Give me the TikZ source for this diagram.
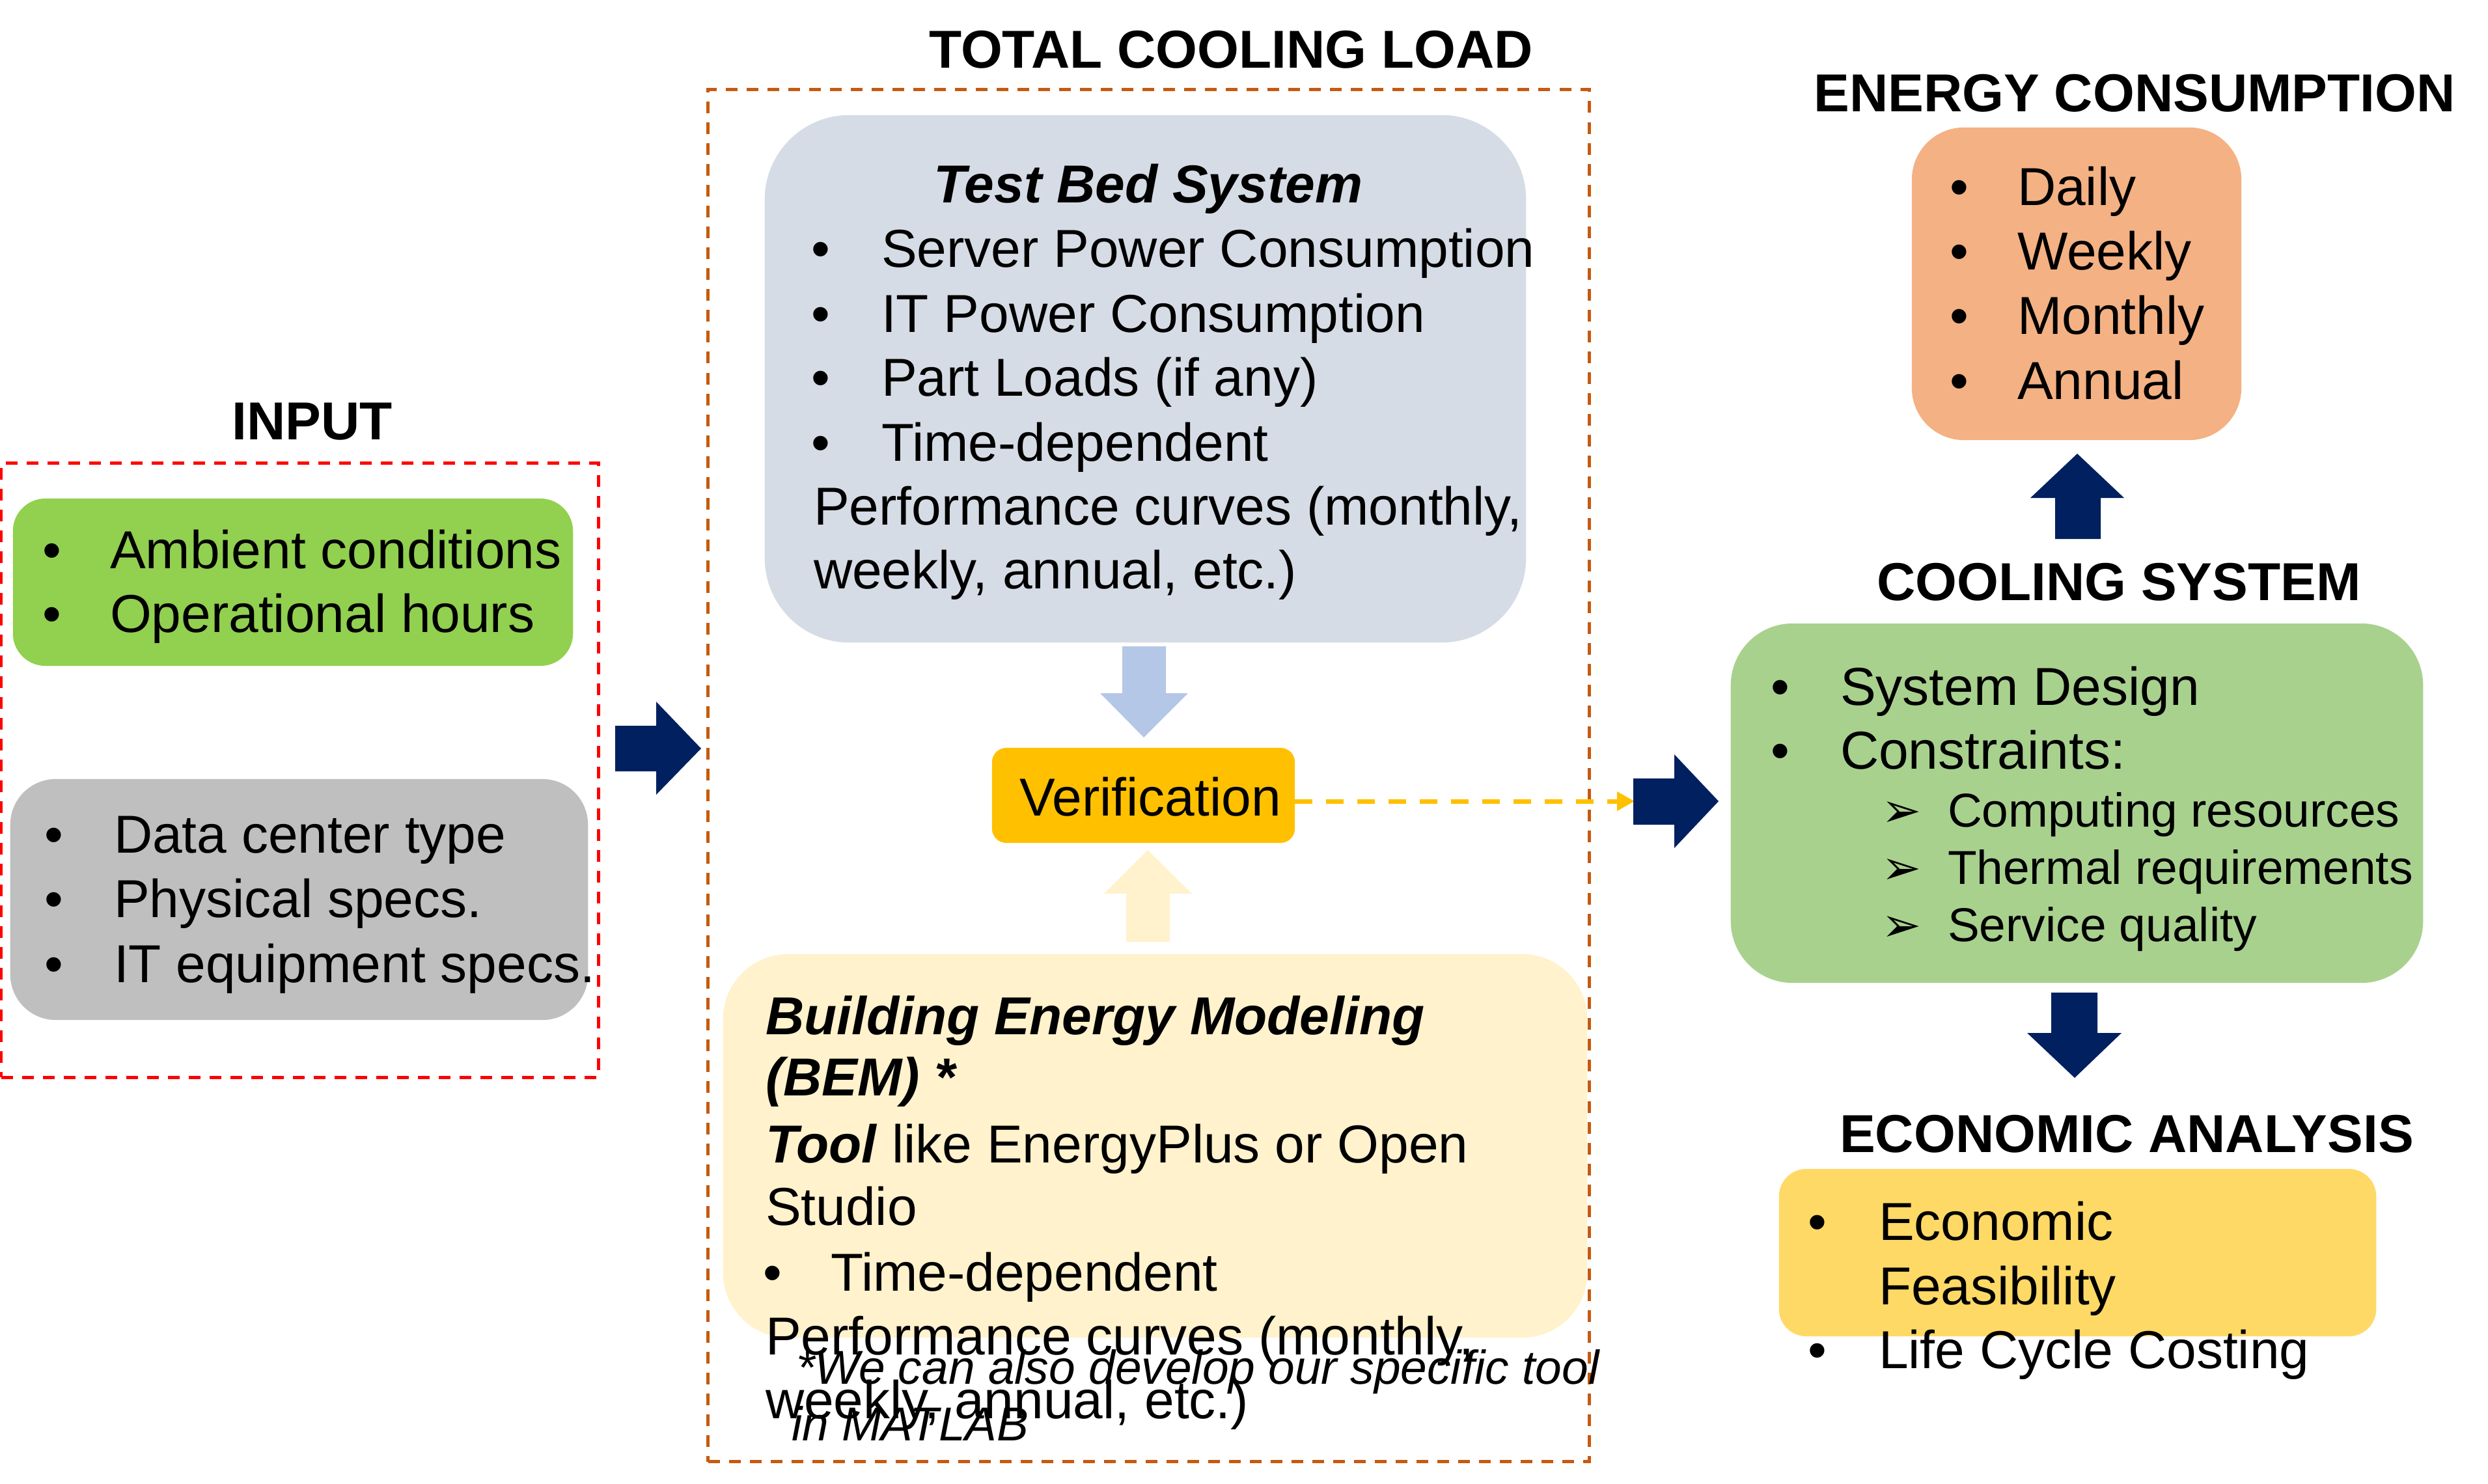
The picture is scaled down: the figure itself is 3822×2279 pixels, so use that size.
\documentclass[tikz,border=0pt]{standalone}
\usepackage{fontspec}
\setmainfont{Liberation Sans}
\newfontfamily\dejavu{DejaVu Sans}
\usetikzlibrary{arrows.meta}
\newcommand\fbig{\fontsize{23.34pt}{28pt}\selectfont}
\newcommand\fsml{\fontsize{20.78pt}{25pt}\selectfont}
\definecolor{navy}{HTML}{002060}
\definecolor{ingreen}{HTML}{92D050}
\definecolor{ingray}{HTML}{BFBFBF}
\definecolor{tbblue}{HTML}{D6DCE5}
\definecolor{arrblue}{HTML}{B4C7E7}
\definecolor{bemyel}{HTML}{FFF2CC}
\definecolor{verif}{HTML}{FFC000}
\definecolor{engor}{HTML}{F4B183}
\definecolor{coolgr}{HTML}{A9D18E}
\definecolor{ecoyel}{HTML}{FFD966}
\definecolor{redd}{HTML}{FF0000}
\definecolor{orad}{HTML}{C55A11}
\tikzset{
  boxnode/.style={draw=none, inner sep=0pt, outer sep=0pt},
  dashbox/.style={draw=#1, line width=0.05cm, dash pattern=on 0.18cm off 0.14cm, inner sep=0pt, outer sep=0pt},
  txt/.style={anchor=base west, inner sep=0pt, outer sep=0pt, font=\fbig},
  bul/.style={anchor=base, inner sep=0pt, outer sep=0pt, font=\fbig},
  ttl/.style={anchor=base, inner sep=0pt, outer sep=0pt, font=\fbig\bfseries},
  sml/.style={anchor=base west, inner sep=0pt, outer sep=0pt, font=\fsml},
}
\begin{document}
\begin{tikzpicture}[x=0.01cm, y=-0.01cm]
\useasboundingbox (0,0) rectangle (3822,2279);

% ---------------- INPUT ----------------
\node[ttl] (tin) at (480,675) {INPUT};
\node[dashbox=redd, minimum width=9.17cm, minimum height=9.43cm] (inbox) at (460.5,1183.5) {};
\node[boxnode, fill=ingreen, rounded corners=0.5cm, minimum width=8.60cm, minimum height=2.57cm] (gbox) at (450,894.5) {};
\node[boxnode, fill=ingray, rounded corners=0.7cm, minimum width=8.87cm, minimum height=3.70cm] (ybox) at (459.5,1382) {};
\node[bul] (g1b) at (80,873) {•};
\node[txt] (g1) at (169,873) {Ambient conditions};
\node[bul] (g2b) at (80,971) {•};
\node[txt] (g2) at (169,971) {Operational hours};
\node[bul] (y1b) at (83,1310) {•};
\node[txt] (y1) at (175,1310) {Data center type};
\node[bul] (y2b) at (83,1409) {•};
\node[txt] (y2) at (175,1409) {Physical specs.};
\node[bul] (y3b) at (83,1509) {•};
\node[txt] (y3) at (175,1509) {IT equipment specs.};

% arrow input -> total cooling load
\fill[navy] (945,1115) -- (1008,1115) -- (1008,1078) -- (1077,1150) -- (1008,1221) -- (1008,1185) -- (945,1185) -- cycle;

% ---------------- TOTAL COOLING LOAD ----------------
\node[ttl] (ttcl) at (1891,105) {TOTAL COOLING LOAD};
\node[dashbox=orad, minimum width=13.53cm, minimum height=21.07cm] (tclbox) at (1764.5,1191.5) {};
\node[boxnode, fill=tbblue, rounded corners=1.3cm, minimum width=11.69cm, minimum height=8.10cm] (tbbox) at (1759.5,582) {};
\node[ttl, font=\fbig\bfseries\itshape] (tbt) at (1764,312) {Test Bed System};
\node[bul] (t1b) at (1261,410) {•};
\node[txt] (t1) at (1354,410) {Server Power Consumption};
\node[bul] (t2b) at (1261,510) {•};
\node[txt] (t2) at (1354,510) {IT Power Consumption};
\node[bul] (t3b) at (1261,608) {•};
\node[txt] (t3) at (1354,608) {Part Loads (if any)};
\node[bul] (t4b) at (1261,708) {•};
\node[txt] (t4) at (1354,708) {Time-dependent};
\node[txt] (t5) at (1250,806) {Performance curves (monthly,};
\node[txt] (t6) at (1250,904) {weekly, annual, etc.)};

% light blue arrow down
\fill[arrblue] (1724,993) -- (1791,993) -- (1791,1065) -- (1825,1065) -- (1757,1133) -- (1690,1065) -- (1724,1065) -- cycle;

% verification
\node[boxnode, fill=verif, rounded corners=0.22cm, minimum width=4.65cm, minimum height=1.46cm] (ver) at (1756.5,1222) {};
\node[bul] (vert) at (1767,1253) {Verification};

% light yellow arrow up
\fill[bemyel] (1730,1447) -- (1797,1447) -- (1797,1373) -- (1831,1373) -- (1763,1306) -- (1696,1373) -- (1730,1373) -- cycle;

% BEM
\node[boxnode, fill=bemyel, rounded corners=1.0cm, minimum width=13.27cm, minimum height=5.89cm] (bembox) at (1774.5,1760.5) {};
\node[txt, font=\fbig\bfseries\itshape] (b1) at (1176,1589) {Building Energy Modeling};
\node[txt, font=\fbig\bfseries\itshape] (b2) at (1176,1683) {(BEM) *};
\node[txt] (b3) at (1176,1786) {\textbf{\textit{Tool}} like EnergyPlus or Open};
\node[txt] (b4) at (1176,1882) {Studio};
\node[bul] (b5b) at (1187,1983) {•};
\node[txt] (b5) at (1276,1983) {Time-dependent};
\node[txt] (b6) at (1176,2081) {Performance curves (monthly,};
\node[txt] (b7) at (1176,2179) {weekly, annual, etc.)};
\node[sml, font=\fsml\itshape] (fn1) at (1223,2126) {*We can also develop our specific tool};
\node[sml, font=\fsml\itshape] (fn2) at (1216,2213) {in MATLAB};

% dashed connector verification -> cooling arrow
\coordinate (a2) at (2511,1231);
\draw[verif, line width=0.07cm, dash pattern=on 0.27cm off 0.21cm, -{Triangle[length=0.27cm,width=0.28cm]}] (ver.east |- a2) -- (a2);

% navy arrow to cooling system
\fill[navy] (2509,1196) -- (2572,1196) -- (2572,1159) -- (2640,1231) -- (2572,1303) -- (2572,1267) -- (2509,1267) -- cycle;

% ---------------- ENERGY CONSUMPTION ----------------
\node[ttl] (tec) at (3279,172) {ENERGY CONSUMPTION};
\node[boxnode, fill=engor, rounded corners=0.8cm, minimum width=5.06cm, minimum height=4.80cm] (ebox) at (3190,436) {};
\node[bul] (e1b) at (3010,316) {•};
\node[txt] (e1) at (3099,316) {Daily};
\node[bul] (e2b) at (3010,414) {•};
\node[txt] (e2) at (3099,414) {Weekly};
\node[bul] (e3b) at (3010,513) {•};
\node[txt] (e3) at (3099,513) {Monthly};
\node[bul] (e4b) at (3010,613) {•};
\node[txt] (e4) at (3099,613) {Annual};

% navy arrow up
\fill[navy] (3157,828) -- (3227,828) -- (3227,765) -- (3263,765) -- (3191,697) -- (3119,765) -- (3157,765) -- cycle;

% ---------------- COOLING SYSTEM ----------------
\node[ttl] (tcs) at (3255,922) {COOLING SYSTEM};
\node[boxnode, fill=coolgr, rounded corners=0.95cm, minimum width=10.63cm, minimum height=5.52cm] (cbox) at (3190.5,1234) {};
\node[bul] (c1b) at (2735,1083) {•};
\node[txt] (c1) at (2827,1083) {System Design};
\node[bul] (c2b) at (2735,1181) {•};
\node[txt] (c2) at (2827,1181) {Constraints:};
\node[sml, font=\fsml\dejavu] (c3b) at (2890,1270) {➢};
\node[sml] (c3) at (2992,1270) {Computing resources};
\node[sml, font=\fsml\dejavu] (c4b) at (2890,1358) {➢};
\node[sml] (c4) at (2992,1358) {Thermal requirements};
\node[sml, font=\fsml\dejavu] (c5b) at (2890,1446) {➢};
\node[sml] (c5) at (2992,1446) {Service quality};

% navy arrow down
\fill[navy] (3151,1525) -- (3222,1525) -- (3222,1587) -- (3259,1587) -- (3187,1656) -- (3114,1587) -- (3151,1587) -- cycle;

% ---------------- ECONOMIC ANALYSIS ----------------
\node[ttl] (tea) at (3267,1770) {ECONOMIC ANALYSIS};
\node[boxnode, fill=ecoyel, rounded corners=0.42cm, minimum width=9.17cm, minimum height=2.57cm] (ecbox) at (3191.5,1924.5) {};
\node[bul] (ec1b) at (2792,1905) {•};
\node[txt] (ec1) at (2886,1905) {Economic};
\node[txt] (ec2) at (2886,2004) {Feasibility};
\node[bul] (ec3b) at (2792,2102) {•};
\node[txt] (ec3) at (2886,2102) {Life Cycle Costing};
\end{tikzpicture}
\end{document}
